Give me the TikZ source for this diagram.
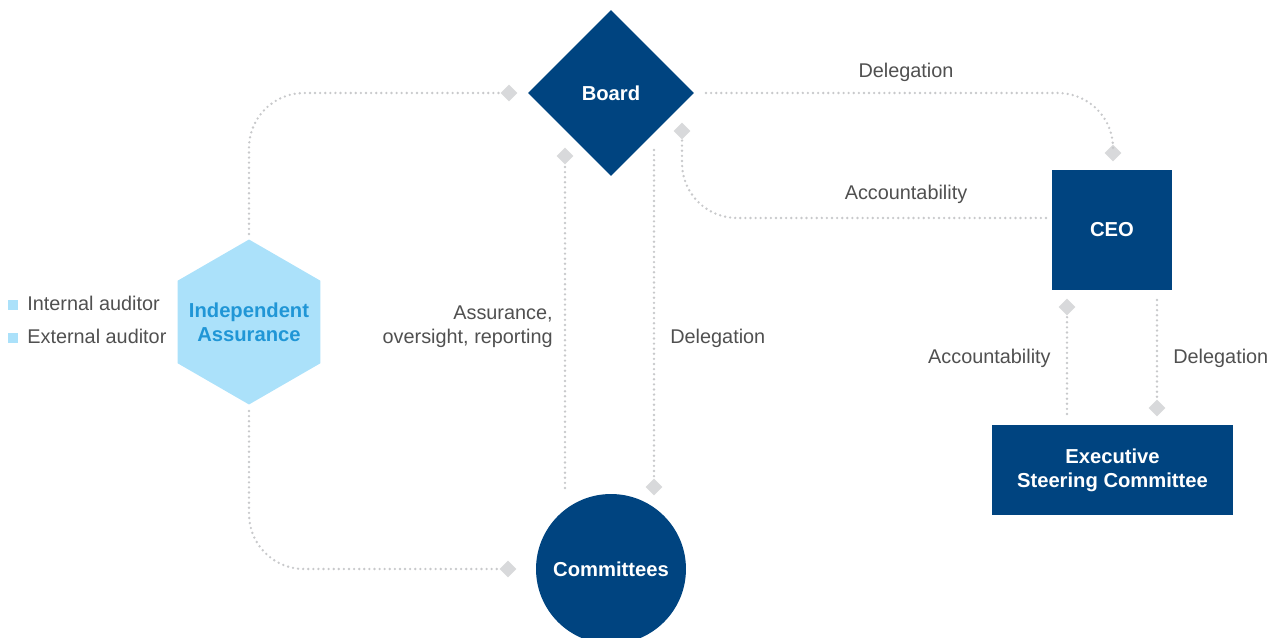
\documentclass[tikz,border=0pt]{standalone}
\usepackage{fontspec}
\setmainfont{Liberation Sans}
\usetikzlibrary{shapes.geometric}

\definecolor{navy}{RGB}{0,68,128}
\definecolor{skyfill}{RGB}{171,225,250}
\definecolor{skytext}{RGB}{32,150,214}
\definecolor{markgray}{RGB}{216,217,219}
\definecolor{dotgray}{RGB}{200,201,203}
\definecolor{labelgray}{RGB}{80,80,80}

\begin{document}
\begin{tikzpicture}[x=0.02cm, y=-0.02cm,
        unit/.style={fill=navy, text=white, font=\fontsize{11.5}{13.5}\selectfont\bfseries, inner sep=0pt, align=center},
        marker/.style={diamond, fill=markgray, minimum size=0.34cm, inner sep=0pt},
        dotline/.style={draw=dotgray, line width=1.5pt, line cap=round, dash pattern=on 0pt off 2.9pt, rounded corners=1.1cm},
        lbl/.style={text=labelgray, font=\fontsize{11.3}{13.5}\selectfont, inner sep=0pt}]
        \useasboundingbox (0,0) rectangle (1269,638);

        % main bodies
        \node[unit, diamond, minimum size=3.32cm] (board) at (611,93) {Board};
        \node[unit, minimum size=2.4cm] (ceo) at (1112,230) {CEO};
        \node[unit, minimum width=4.82cm, minimum height=1.8cm] (esc) at (1112.5,470) {Executive\\Steering Committee};
        \node[unit, circle, minimum size=3cm] (cmte) at (611,569) {Committees};
        \node[regular polygon, regular polygon sides=6, shape border rotate=30, minimum size=3.3cm, inner sep=0pt,
            fill=skyfill] (assur) at (249,322) {};
        \node[text=skytext, font=\fontsize{11.5}{13.5}\selectfont\bfseries, align=center, inner sep=0pt] (assurText) at (assur.center) {Independent\\Assurance};

        % end markers
        \node[marker] (mBoardL) at (509,93) {};
        \node[marker] (mCmteL) at (508,569) {};
        \node[marker] (mBoardA) at (565,156) {};
        \node[marker] (mCmteD) at (654,487) {};
        \node[marker] (mCeoT) at (1113,153) {};
        \node[marker] (mBoardR) at (682,131) {};
        \node[marker] (mCeoB) at (1067,307) {};
        \node[marker] (mEscT) at (1157,408) {};

        % free line ends
        \coordinate (hexTop) at (249,234);
        \coordinate (hexBot) at (249,411);
        \coordinate (assurBot) at (565,488);
        \coordinate (delegTop) at (654,150);
        \coordinate (boardR) at (706,93);
        \coordinate (ceoL) at (1046,218);
        \coordinate (escL) at (1067,414);
        \coordinate (ceoB) at (1157,300);

        \draw[dotline] (hexTop) |- (mBoardL.west);
        \draw[dotline] (hexBot) |- (mCmteL.west);
        \draw[dotline] (assurBot) -- (mBoardA.south);
        \draw[dotline] (delegTop) -- (mCmteD.north);
        \draw[dotline] (boardR) -| (mCeoT.north);
        \draw[dotline] (ceoL) -| (mBoardR.south);
        \draw[dotline] (escL) -- (mCeoB.south);
        \draw[dotline] (ceoB) -- (mEscT.north);

        % labels
        \node[lbl, anchor=base] (lDelegTop) at (906,78) {Delegation};
        \node[lbl, anchor=base] (lAcctTop) at (906,200) {Accountability};
        \node[lbl, anchor=east, align=right] (lAssur) at (553,327) {Assurance,\\oversight, reporting};
        \node[lbl, anchor=base west] (lDelegMid) at (670,344) {Delegation};
        \node[lbl, anchor=base east] (lAcctCeo) at (1051,364) {Accountability};
        \node[lbl, anchor=base west] (lDelegCeo) at (1173,364) {Delegation};

        % legend
        \node[fill=skyfill, minimum size=0.2cm, inner sep=0pt] (sqInt) at (13,305) {};
        \node[fill=skyfill, minimum size=0.2cm, inner sep=0pt] (sqExt) at (13,338) {};
        \node[lbl, anchor=base west] (lInt) at (27,311) {Internal auditor};
        \node[lbl, anchor=base west] (lExt) at (27,344) {External auditor};
    \end{tikzpicture}
\end{document}
